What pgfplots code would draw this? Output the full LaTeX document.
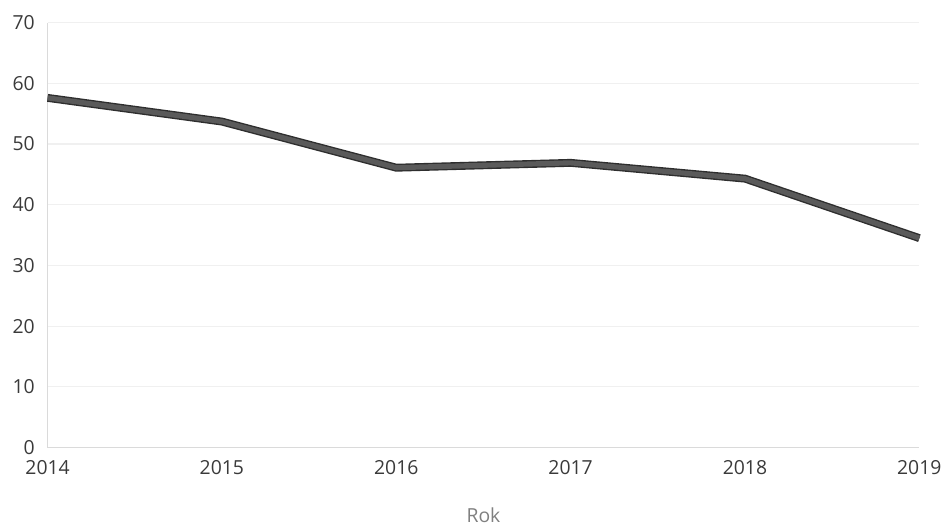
\documentclass[border={3pt 0pt 0pt 4.5pt}]{standalone}
\usepackage{pgfplots}
\pgfplotsset{compat=1.18}
\usepackage{fontspec}
\setmainfont{Open Sans}
\definecolor{tickc}{HTML}{3A3A3A}
\definecolor{gridc}{HTML}{F0F0F0}
\definecolor{linein}{HTML}{5A5A5A}
\definecolor{lineout}{HTML}{2E2E2E}
\begin{document}
\begin{tikzpicture}
\begin{axis}[
  scale only axis,
  width=441pt, height=215pt,
  xmin=2014, xmax=2019, ymin=0, ymax=70,
  xtick={2014,...,2019},
  ytick={0,10,...,70},
  xticklabel style={/pgf/number format/1000 sep={}},
  /pgf/number format/assume math mode=true,
  ymajorgrids, grid style={gridc, line width=0.6pt},
  axis x line*=bottom, axis y line*=left,
  axis line style={gridc!80!gray, line width=0.5pt},
  tick style={draw=none},
  ticklabel style={font=\fontsize{9.8}{11}\selectfont, text=tickc},
  yticklabel style={xshift=-3pt},
  xticklabel style={yshift=-3pt},
  xlabel={Rok},
  xlabel style={font=\fontsize{9.8}{11}\selectfont, text=gray, yshift=-10pt},
  clip=false,
]
\addplot[lineout, line width=4pt] coordinates {(2014,57.6) (2015,53.7) (2016,46.1) (2017,46.9) (2018,44.3) (2019,34.5)};
\addplot[linein, line width=2.6pt] coordinates {(2014,57.6) (2015,53.7) (2016,46.1) (2017,46.9) (2018,44.3) (2019,34.5)};
\end{axis}
\end{tikzpicture}
\end{document}
